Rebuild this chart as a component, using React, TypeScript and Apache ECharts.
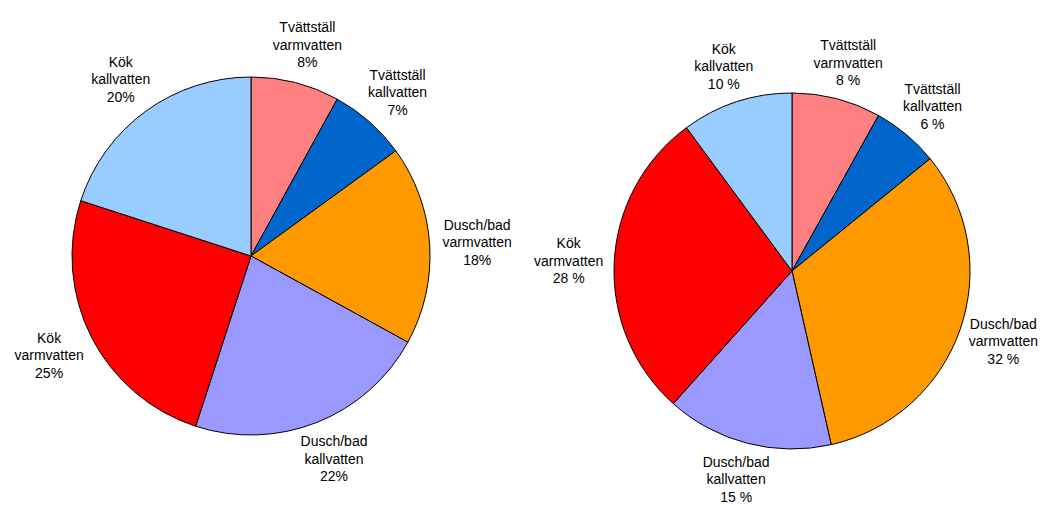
import React, { useEffect, useRef } from "react";
import * as echarts from "echarts";

const categories = [
  "Tvättställ varmvatten",
  "Tvättställ kallvatten",
  "Dusch/bad varmvatten",
  "Dusch/bad kallvatten",
  "Kök varmvatten",
  "Kök kallvatten",
];
const leftValues = [8, 7, 18, 22, 25, 20];
const rightValues = [8, 6, 32, 15, 28, 10];
const colors = ["#FF8080", "#0066CC", "#FF9900", "#9999FF", "#FF0000", "#99CCFF"];

const FONT = "'Liberation Sans', Arial, sans-serif";

function pieSeries(values: number[], center: number[], r: number, gap: number, sep: string) {
  const total = values.reduce((a, b) => a + b, 0);
  const mids: number[] = [];
  let cum = 0;
  values.forEach((v) => {
    mids.push(((cum + v / 2) / total) * Math.PI * 2);
    cum += v;
  });
  const data = categories.map((name, i) => ({
    name,
    value: values[i],
    itemStyle: { color: colors[i] },
  }));
  return {
    type: "pie",
    center,
    radius: [0, r],
    startAngle: 90,
    clockwise: true,
    silent: true,
    avoidLabelOverlap: false,
    itemStyle: { borderColor: "#000", borderWidth: 1 },
    labelLine: { show: false },
    label: {
      show: true,
      position: "inside",
      color: "#000",
      fontFamily: FONT,
      fontSize: 14,
      lineHeight: 17.5,
      align: "center",
      overflow: "none",
      formatter: (p: any) => p.name.replace(" ", "\n") + "\n" + p.value + sep + "%",
    },
    labelLayout: (p: any) => {
      const t = mids[p.dataIndex];
      const s = Math.sin(t);
      const c = Math.cos(t);
      const ax = center[0] + (r + gap) * s;
      const ay = center[1] - (r + gap) * c;
      const w = p.labelRect.width;
      const h = p.labelRect.height;
      return {
        x: ax + (w / 2) * s,
        y: ay - (h / 2) * c,
        align: "center",
        verticalAlign: "middle",
      };
    },
    data,
  };
}

export default function App() {
  const ref = useRef<HTMLDivElement>(null);
  useEffect(() => {
    const chart = echarts.init(ref.current!, null, { renderer: "svg" });
    chart.setOption({
      animation: false,
      backgroundColor: "#fff",
      series: [
        pieSeries(leftValues, [251, 256], 179, 13, ""),
        pieSeries(rightValues, [792, 271], 178, 11, " "),
      ],
    });
    return () => chart.dispose();
  }, []);
  return (
    <div
      ref={ref}
      style={{ position: "absolute", left: 0, top: 0, width: 1045, height: 505 }}
    />
  );
}
